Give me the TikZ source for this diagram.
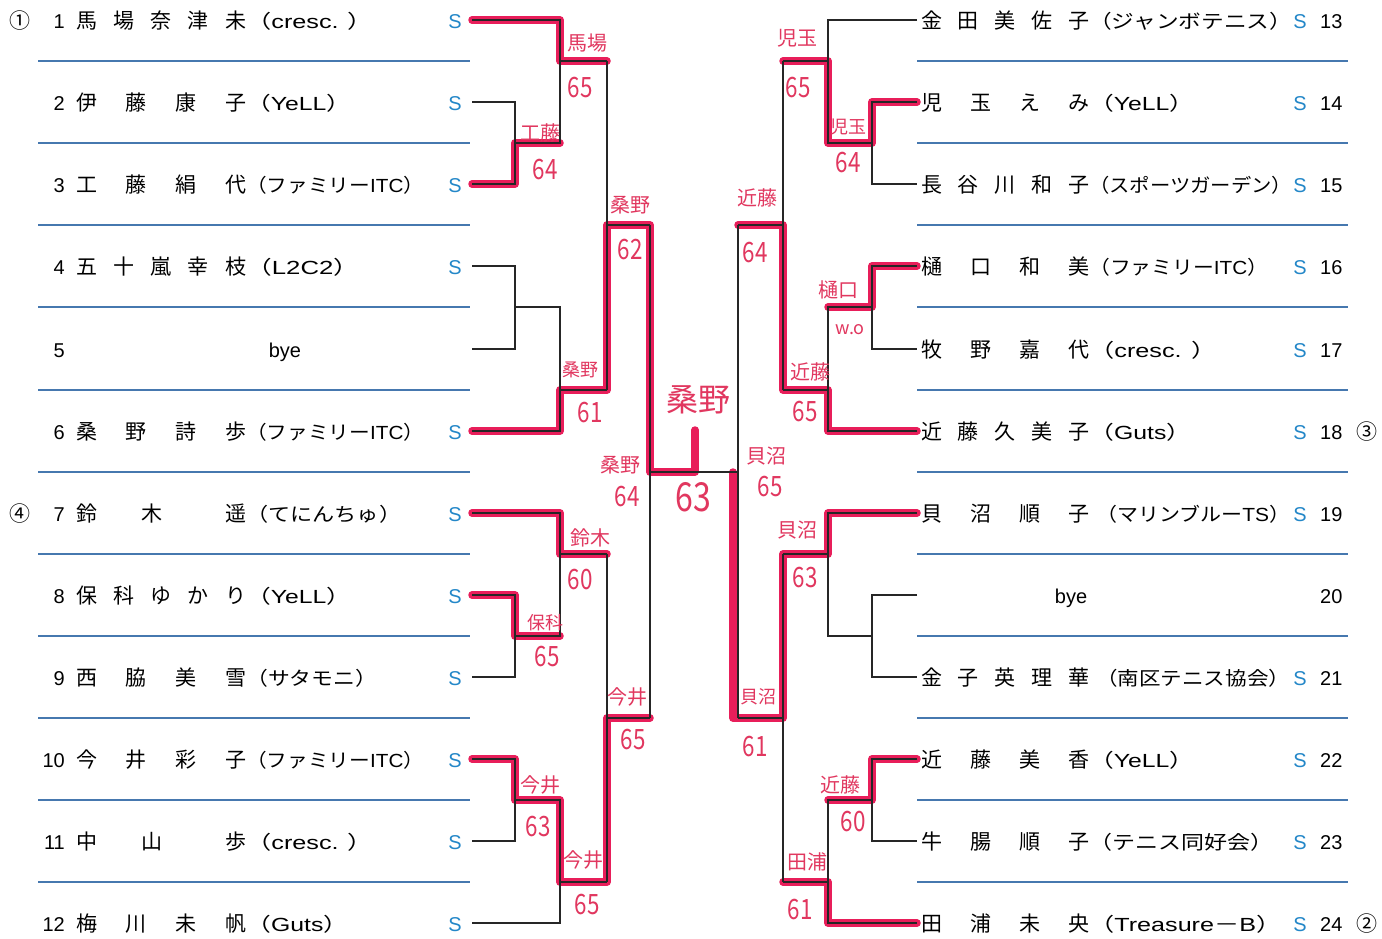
\documentclass[tikz,border=0pt]{standalone}
\usepackage{fontspec}
\usepackage{graphicx}
\setmainfont{Noto Sans CJK JP}
\newfontfamily\latf{Liberation Sans}
\definecolor{sblue}{RGB}{35,135,200}
\definecolor{lblue}{RGB}{70,120,175}
\definecolor{hred}{RGB}{232,30,90}
\definecolor{handc}{RGB}{225,55,95}
\tikzset{
 bk/.style={line width=1.2pt, black!85},
 win/.style={line width=7.5pt, hred, line cap=round, line join=round},
 sep/.style={line width=1.8pt, lblue},
 nm/.style={inner sep=0pt, font=\fontsize{21}{21}\selectfont, anchor=base west},
 club/.style={inner sep=0pt, font=\fontsize{19}{19}\selectfont, anchor=base west},
 numl/.style={inner sep=0pt, font=\fontsize{20}{20}\selectfont\latf, anchor=base east},
 numr/.style={inner sep=0pt, font=\fontsize{20}{20}\selectfont\latf, anchor=base west},
 smark/.style={inner sep=0pt, font=\fontsize{20}{20}\selectfont\latf, text=sblue, anchor=base},
 byet/.style={inner sep=0pt, font=\fontsize{20}{20}\selectfont\latf, anchor=base},
 circ/.style={inner sep=0pt, font=\fontsize{21}{21}\selectfont, anchor=base},
 hw/.style={inner sep=0pt, text=handc, font=\fontsize{20}{20}\selectfont},
 hws/.style={inner sep=0pt, text=handc, font=\fontsize{18}{18}\selectfont},
 hwn/.style={inner sep=0pt, text=handc, font=\fontsize{28}{28}\selectfont},
 hwb/.style={inner sep=0pt, text=handc, font=\fontsize{32}{32}\selectfont},
 hwnb/.style={inner sep=0pt, text=handc, font=\fontsize{40}{40}\selectfont},
}
\newcommand{\nmbox}[1]{\hbox to 170pt{#1}}
\newcommand{\nmboxr}[1]{\hbox to 168pt{#1}}
\newcommand{\hn}[1]{\scalebox{0.8}[1]{#1}}
\begin{document}
\begin{tikzpicture}[x=1pt,y=-1pt]
\fill[white] (0,0) rectangle (1382,938);
\useasboundingbox (0,0) rectangle (1382,938);

% separators
\foreach \yy in {61,143,225,307,390,472,554,636,718,800,882}{
  \draw[sep] (38,\yy) -- (470,\yy);
  \draw[sep] (917,\yy) -- (1348,\yy);
}

% row end coordinates
\coordinate (r1) at (472,20);
\coordinate (r2) at (472,102);
\coordinate (r3) at (472,184);
\coordinate (r4) at (472,266);
\coordinate (r5) at (472,349);
\coordinate (r6) at (472,431);
\coordinate (r7) at (472,513);
\coordinate (r8) at (472,595);
\coordinate (r9) at (472,677);
\coordinate (r10) at (472,759);
\coordinate (r11) at (472,841);
\coordinate (r12) at (472,923);
\coordinate (r13) at (917,20);
\coordinate (r14) at (917,102);
\coordinate (r15) at (917,184);
\coordinate (r16) at (917,266);
\coordinate (r17) at (917,349);
\coordinate (r18) at (917,431);
\coordinate (r19) at (917,513);
\coordinate (r20) at (917,595);
\coordinate (r21) at (917,677);
\coordinate (r22) at (917,759);
\coordinate (r23) at (917,841);
\coordinate (r24) at (917,923);
% junctions left
\coordinate (jA) at (515,143);
\coordinate (jB) at (560,61);
\coordinate (jC) at (515,307);
\coordinate (jD) at (560,390);
\coordinate (jE) at (607,225);
\coordinate (jF) at (515,636);
\coordinate (jG) at (560,554);
\coordinate (jH) at (515,800);
\coordinate (jI) at (560,882);
\coordinate (jJ) at (607,718);
\coordinate (jK) at (650,472);
\coordinate (fin) at (695,430);
% junctions right
\coordinate (RA) at (872,143);
\coordinate (RB) at (828,61);
\coordinate (RC) at (872,307);
\coordinate (RD) at (828,390);
\coordinate (RE) at (783,225);
\coordinate (RF) at (872,636);
\coordinate (RG) at (828,554);
\coordinate (RH) at (872,800);
\coordinate (RI) at (828,882);
\coordinate (RJ) at (783,718);
\coordinate (RK) at (738,472);
\coordinate (RKa) at (733,718);
\coordinate (RKb) at (733,472);

% winner highlights
\draw[win] (r1) -| (jB) -- (jB -| jE);
\draw[win] (r3) -| (jA) -- (jA -| jB);
\draw[win] (r6) -| (jD) -- (jD -| jE) -- (jE) -- (jE -| jK) -- (jK) -| (fin);
\draw[win] (r7) -| (jG) -- (jG -| jJ);
\draw[win] (r8) -| (jF) -- (jF -| jG);
\draw[win] (r10) -| (jH) -- (jH -| jI) -- (jI) -- (jI -| jJ) -- (jJ) -- (jJ -| jK);
\draw[win] (r14) -| (RA) -- (RA -| RB) -- (RB) -- (RB -| RE);
\draw[win] (r16) -| (RC) -- (RC -| RD);
\draw[win] (r18) -| (RD) -- (RD -| RE) -- (RE) -- (RE -| RK);
\draw[win] (r19) -| (RG) -- (RG -| RJ) -- (RJ) -- (RKa) -- (RKb);
\draw[win] (r22) -| (RH) -- (RH -| RI);
\draw[win] (r24) -| (RI) -- (RI -| RJ);

% bracket lines left
\draw[bk] (r2) -| (jA) |- (r3);
\draw[bk] (r1) -| (jA -| jB) -- (jA);
\draw[bk] (jB) -- (jB -| jE);
\draw[bk] (r4) -| (jC) |- (r5);
\draw[bk] (r6) -| (jC -| jD) -- (jC);
\draw[bk] (jD) -- (jD -| jE);
\draw[bk] (jB -| jE) -- (jD -| jE);
\draw[bk] (jE) -- (jE -| jK);
\draw[bk] (r8) -| (jF) |- (r9);
\draw[bk] (r7) -| (jF -| jG) -- (jF);
\draw[bk] (jG) -- (jG -| jJ);
\draw[bk] (r10) -| (jH) |- (r11);
\draw[bk] (r12) -| (jH -| jI) -- (jH);
\draw[bk] (jI) -- (jI -| jJ);
\draw[bk] (jG -| jJ) -- (jI -| jJ);
\draw[bk] (jJ) -- (jJ -| jK);
\draw[bk] (jE -| jK) -- (jJ -| jK);
\draw[bk] (jK) -- (RK);
% bracket lines right
\draw[bk] (r14) -| (RA) |- (r15);
\draw[bk] (r13) -| (RA -| RB) -- (RA);
\draw[bk] (RB) -- (RB -| RE);
\draw[bk] (r16) -| (RC) |- (r17);
\draw[bk] (r18) -| (RC -| RD) -- (RC);
\draw[bk] (RD) -- (RD -| RE);
\draw[bk] (RB -| RE) -- (RD -| RE);
\draw[bk] (RE) -- (RE -| RK);
\draw[bk] (r20) -| (RF) |- (r21);
\draw[bk] (r19) -| (RF -| RG) -- (RF);
\draw[bk] (RG) -- (RG -| RJ);
\draw[bk] (r22) -| (RH) |- (r23);
\draw[bk] (r24) -| (RH -| RI) -- (RH);
\draw[bk] (RI) -- (RI -| RJ);
\draw[bk] (RG -| RJ) -- (RI -| RJ);
\draw[bk] (RJ) -- (RJ -| RK);
\draw[bk] (RE -| RK) -- (RJ -| RK);

% circled seeds
\node[circ] (q1) at (20,28) {①};
\node[circ] (q4) at (20,521) {④};
\node[circ] (q3) at (1367,439) {③};
\node[circ] (q2) at (1367,931) {②};

% left numbers
\node[numl] (k1) at (65,28) {1};
\node[numl] (k2) at (65,110) {2};
\node[numl] (k3) at (65,192) {3};
\node[numl] (k4) at (65,274) {4};
\node[numl] (k5) at (65,357) {5};
\node[numl] (k6) at (65,439) {6};
\node[numl] (k7) at (65,521) {7};
\node[numl] (k8) at (65,603) {8};
\node[numl] (k9) at (65,685) {9};
\node[numl] (k10) at (65,767) {10};
\node[numl] (k11) at (65,849) {11};
\node[numl] (k12) at (65,931) {12};

% left names
\node[nm] (n1) at (76,28) {\nmbox{馬\hfill{}場\hfill{}奈\hfill{}津\hfill{}未}};
\node[nm] (n2) at (76,110) {\nmbox{伊\hfill{}藤\hfill{}康\hfill{}子}};
\node[nm] (n3) at (76,192) {\nmbox{工\hfill{}藤\hfill{}絹\hfill{}代}};
\node[nm] (n4) at (76,274) {\nmbox{五\hfill{}十\hfill{}嵐\hfill{}幸\hfill{}枝}};
\node[byet] (n5) at (285,357) {bye};
\node[nm] (n6) at (76,439) {\nmbox{桑\hfill{}野\hfill{}詩\hfill{}歩}};
\node[nm] (n7) at (76,521) {\nmbox{鈴\hspace{44pt}木\hfill{}遥}};
\node[nm] (n8) at (76,603) {\nmbox{保\hfill{}科\hfill{}ゆ\hfill{}か\hfill{}り}};
\node[nm] (n9) at (76,685) {\nmbox{西\hfill{}脇\hfill{}美\hfill{}雪}};
\node[nm] (n10) at (76,767) {\nmbox{今\hfill{}井\hfill{}彩\hfill{}子}};
\node[nm] (n11) at (76,849) {\nmbox{中\hspace{44pt}山\hfill{}歩}};
\node[nm] (n12) at (76,931) {\nmbox{梅\hfill{}川\hfill{}未\hfill{}帆}};

% left clubs
\node[club] (c1) at (246,28) {\resizebox{127pt}{\height}{（{\latf cresc. }）}};
\node[club] (c2) at (246,110) {\resizebox{105pt}{\height}{（{\latf YeLL}）}};
\node[club] (c3) at (246,192) {\resizebox{178pt}{\height}{（ファミリー{\latf ITC}）}};
\node[club] (c4) at (246,274) {\resizebox{113pt}{\height}{（{\latf L2C2}）}};
\node[club] (c6) at (246,439) {\resizebox{178pt}{\height}{（ファミリー{\latf ITC}）}};
\node[club] (c7) at (246,521) {\resizebox{155pt}{\height}{（てにんちゅ）}};
\node[club] (c8) at (246,603) {\resizebox{105pt}{\height}{（{\latf YeLL}）}};
\node[club] (c9) at (246,685) {\resizebox{131pt}{\height}{（サタモニ）}};
\node[club] (c10) at (246,767) {\resizebox{178pt}{\height}{（ファミリー{\latf ITC}）}};
\node[club] (c11) at (246,849) {\resizebox{127pt}{\height}{（{\latf cresc. }）}};
\node[club] (c12) at (246,931) {\resizebox{102pt}{\height}{（{\latf Guts}）}};

% left S
\node[smark] (s1) at (455,28) {S};
\node[smark] (s2) at (455,110) {S};
\node[smark] (s3) at (455,192) {S};
\node[smark] (s4) at (455,274) {S};
\node[smark] (s6) at (455,439) {S};
\node[smark] (s7) at (455,521) {S};
\node[smark] (s8) at (455,603) {S};
\node[smark] (s9) at (455,685) {S};
\node[smark] (s10) at (455,767) {S};
\node[smark] (s11) at (455,849) {S};
\node[smark] (s12) at (455,931) {S};

% right names
\node[nm] (n13) at (921,28) {\nmboxr{金\hfill{}田\hfill{}美\hfill{}佐\hfill{}子}};
\node[nm] (n14) at (921,110) {\nmboxr{児\hfill{}玉\hfill{}え\hfill{}み}};
\node[nm] (n15) at (921,192) {\nmboxr{長\hfill{}谷\hfill{}川\hfill{}和\hfill{}子}};
\node[nm] (n16) at (921,274) {\nmboxr{樋\hfill{}口\hfill{}和\hfill{}美}};
\node[nm] (n17) at (921,357) {\nmboxr{牧\hfill{}野\hfill{}嘉\hfill{}代}};
\node[nm] (n18) at (921,439) {\nmboxr{近\hfill{}藤\hfill{}久\hfill{}美\hfill{}子}};
\node[nm] (n19) at (921,521) {\nmboxr{貝\hfill{}沼\hfill{}順\hfill{}子}};
\node[byet] (n20) at (1071,603) {bye};
\node[nm] (n21) at (921,685) {\nmboxr{金\hfill{}子\hfill{}英\hfill{}理\hfill{}華}};
\node[nm] (n22) at (921,767) {\nmboxr{近\hfill{}藤\hfill{}美\hfill{}香}};
\node[nm] (n23) at (921,849) {\nmboxr{牛\hfill{}腸\hfill{}順\hfill{}子}};
\node[nm] (n24) at (921,931) {\nmboxr{田\hfill{}浦\hfill{}未\hfill{}央}};

% right clubs
\node[club] (c13) at (1089,28) {\resizebox{203pt}{\height}{（ジャンボテニス）}};
\node[club] (c14) at (1089,110) {\resizebox{105pt}{\height}{（{\latf YeLL}）}};
\node[club] (c15) at (1089,192) {\resizebox{203pt}{\height}{（スポーツガーデン）}};
\node[club] (c16) at (1089,274) {\resizebox{179pt}{\height}{（ファミリー{\latf ITC}）}};
\node[club] (c17) at (1089,357) {\resizebox{127pt}{\height}{（{\latf cresc. }）}};
\node[club] (c18) at (1089,439) {\resizebox{102pt}{\height}{（{\latf Guts}）}};
\node[club] (c19) at (1096,521) {\resizebox{194pt}{\height}{（マリンブルー{\latf TS}）}};
\node[club] (c21) at (1096,685) {\resizebox{194pt}{\height}{（南区テニス協会）}};
\node[club] (c22) at (1089,767) {\resizebox{105pt}{\height}{（{\latf YeLL}）}};
\node[club] (c23) at (1089,849) {\resizebox{184pt}{\height}{（テニス同好会）}};
\node[club] (c24) at (1089,931) {\resizebox{192pt}{\height}{（{\latf Treasure}－{\latf B}）}};

% right S and numbers
\node[smark] (s13) at (1300,28) {S};
\node[smark] (s14) at (1300,110) {S};
\node[smark] (s15) at (1300,192) {S};
\node[smark] (s16) at (1300,274) {S};
\node[smark] (s17) at (1300,357) {S};
\node[smark] (s18) at (1300,439) {S};
\node[smark] (s19) at (1300,521) {S};
\node[smark] (s21) at (1300,685) {S};
\node[smark] (s22) at (1300,767) {S};
\node[smark] (s23) at (1300,849) {S};
\node[smark] (s24) at (1300,931) {S};
\node[numr] (k13) at (1320,28) {13};
\node[numr] (k14) at (1320,110) {14};
\node[numr] (k15) at (1320,192) {15};
\node[numr] (k16) at (1320,274) {16};
\node[numr] (k17) at (1320,357) {17};
\node[numr] (k18) at (1320,439) {18};
\node[numr] (k19) at (1320,521) {19};
\node[numr] (k20) at (1320,603) {20};
\node[numr] (k21) at (1320,685) {21};
\node[numr] (k22) at (1320,767) {22};
\node[numr] (k23) at (1320,849) {23};
\node[numr] (k24) at (1320,931) {24};

% handwritten winners and scores
\node[hw] (h1) at (587,43) {馬場};
\node[hwn] (h1s) at (580,88) {\hn{65}};
\node[hw] (h2) at (540,133) {工藤};
\node[hwn] (h2s) at (545,170) {\hn{64}};
\node[hw] (h3) at (630,205) {桑野};
\node[hwn] (h3s) at (630,250) {\hn{62}};
\node[hws] (h4) at (580,370) {桑野};
\node[hwn] (h4s) at (590,413) {\hn{61}};
\node[hwb] (h5) at (698,400) {桑野};
\node[hw] (h6) at (620,465) {桑野};
\node[hwn] (h6s) at (627,497) {\hn{64}};
\node[hwnb] (h5s) at (693,497) {\hn{63}};
\node[hw] (h7) at (590,538) {鈴木};
\node[hwn] (h7s) at (580,580) {\hn{60}};
\node[hws] (h8) at (545,623) {保科};
\node[hwn] (h8s) at (547,657) {\hn{65}};
\node[hw] (h9) at (627,697) {今井};
\node[hwn] (h9s) at (633,740) {\hn{65}};
\node[hw] (h10) at (540,785) {今井};
\node[hwn] (h10s) at (538,827) {\hn{63}};
\node[hw] (h11) at (583,860) {今井};
\node[hwn] (h11s) at (587,905) {\hn{65}};
\node[hw] (h12) at (797,38) {児玉};
\node[hwn] (h12s) at (798,88) {\hn{65}};
\node[hws] (h13) at (848,127) {児玉};
\node[hwn] (h13s) at (848,163) {\hn{64}};
\node[hw] (h14) at (757,198) {近藤};
\node[hwn] (h14s) at (755,253) {\hn{64}};
\node[hw] (h15) at (838,290) {樋口};
\node[hws] (h15s) at (850,330) {w.o};
\node[hw] (h16) at (810,372) {近藤};
\node[hwn] (h16s) at (805,412) {\hn{65}};
\node[hw] (h17) at (766,456) {貝沼};
\node[hwn] (h17s) at (770,487) {\hn{65}};
\node[hw] (h18) at (797,530) {貝沼};
\node[hwn] (h18s) at (805,578) {\hn{63}};
\node[hws] (h19) at (758,697) {貝沼};
\node[hwn] (h19s) at (755,747) {\hn{61}};
\node[hw] (h20) at (840,785) {近藤};
\node[hwn] (h20s) at (853,822) {\hn{60}};
\node[hw] (h21) at (807,862) {田浦};
\node[hwn] (h21s) at (800,910) {\hn{61}};
\end{tikzpicture}
\end{document}
